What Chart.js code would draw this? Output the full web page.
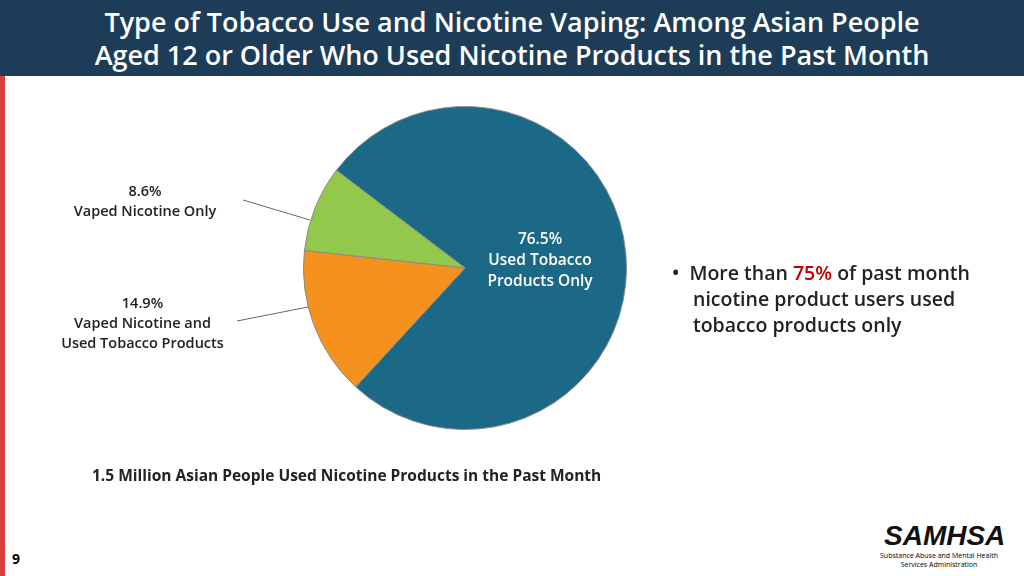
<!DOCTYPE html>
<html><head><meta charset="utf-8">
<script src="https://cdn.jsdelivr.net/npm/chart.js@4"></script>
<style>
body{margin:0;width:1024px;height:576px;position:relative;overflow:hidden;background:#fff;font-family:"Open Sans",sans-serif}
#hdr{position:absolute;left:0;top:0;width:1024px;height:76px;background:#1c3c57;color:#fff;text-align:center;font-size:27px;font-weight:600;line-height:33px;padding-top:5px;box-sizing:border-box}
#strip{position:absolute;left:0;top:76px;width:5px;height:500px;background:#d9403b}
.t{position:absolute;font-size:14.5px;font-weight:600;color:#222;text-align:center;line-height:20px}
#wrap{position:absolute;left:0;top:76px;width:1024px;height:420px}
</style></head><body>
<div id="hdr">Type of Tobacco Use and Nicotine Vaping: Among Asian People<br>Aged 12 or Older Who Used Nicotine Products in the Past Month</div>
<div id="strip"></div>
<div id="wrap"><canvas id="c"></canvas></div>
<div class="t" style="left:50px;top:181px;width:190px">8.6%<br>Vaped Nicotine Only</div>
<div class="t" style="left:40px;top:293px;width:205px">14.9%<br>Vaped Nicotine and<br>Used Tobacco Products</div>
<div class="t" style="left:470px;top:228px;width:140px;color:#fff;font-size:15.5px;line-height:21px">76.5%<br>Used Tobacco<br>Products Only</div>
<div style="position:absolute;left:672px;top:260px;font-size:19.5px;font-weight:600;line-height:26px;color:#222">•&nbsp; More than <span style="color:#c00000">75%</span> of past month<br><span style="padding-left:21px">nicotine product users used</span><br><span style="padding-left:21px">tobacco products only</span></div>
<div style="position:absolute;left:92px;top:464px;font-size:15.5px;font-weight:700;color:#222">1.5 Million Asian People Used Nicotine Products in the Past Month</div>
<div style="position:absolute;left:12px;top:549px;font-size:14px;font-weight:700">9</div>
<div style="position:absolute;left:884px;top:520px;font-size:28px;font-weight:900;font-style:italic;color:#111;font-family:'Liberation Sans'">SAMHSA</div>
<div style="position:absolute;left:874px;top:551px;width:130px;font-size:7px;text-align:center;line-height:9px;white-space:nowrap">Substance Abuse and Mental Health<br>Services Administration</div>
<script>
const categories = ['Used Tobacco Products Only', 'Vaped Nicotine and Used Tobacco Products', 'Vaped Nicotine Only'];
const values = [76.5, 14.9, 8.6];
const colors = ['#1b6987', '#f5921e', '#92c94c'];

const leaders = {
  id: 'leaders',
  afterDraw(chart) {
    const ctx = chart.ctx;
    const lines = [[243, 124, 310, 144], [237, 245, 308, 231]];
    ctx.save();
    ctx.strokeStyle = '#666';
    ctx.lineWidth = 1;
    for (const l of lines) {
      ctx.beginPath();
      ctx.moveTo(l[0], l[1]);
      ctx.lineTo(l[2], l[3]);
      ctx.stroke();
    }
    ctx.restore();
  }
};

new Chart(document.getElementById('c'), {
  type: 'pie',
  data: { labels: categories, datasets: [{ data: values, backgroundColor: colors, borderColor: '#8a8a8a', borderWidth: 1 }] },
  options: {
    responsive: true, maintainAspectRatio: false, animation: false,
    rotation: -52.8,
    layout: { padding: { left: 303, right: 397, top: 30, bottom: 66 } },
    plugins: { legend: { display: false }, tooltip: { enabled: false } }
  },
  plugins: [leaders]
});
</script>
</body></html>
